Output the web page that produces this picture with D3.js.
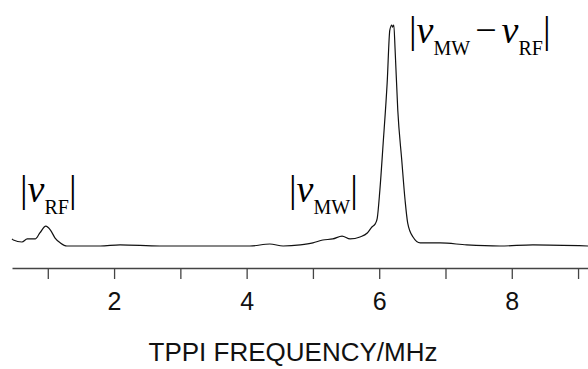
<!DOCTYPE html>
<html>
<head>
<meta charset="utf-8">
<script src="https://cdn.jsdelivr.net/npm/d3@7"></script>
<style>
  body { margin: 0; background: #fff; }
  svg { display: block; }
  .lbl { font-family: "Liberation Serif", "Times New Roman", serif; fill: #000; }
</style>
</head>
<body>
<div id="chart"></div>
<script>
// spectrum (frequency in MHz, normalised intensity)
const freq = [0.46, 0.48, 0.61, 0.69, 0.81, 0.88, 0.97, 1.04, 1.11, 1.19, 1.29, 1.79, 2.09, 2.69, 3.30,
  4.05, 4.35, 4.55, 4.81, 5.00, 5.15, 5.30, 5.44, 5.56, 5.71, 5.82, 5.89, 5.94, 5.97, 6.01, 6.06,
  6.12, 6.16, 6.19, 6.20, 6.22, 6.24, 6.28, 6.34, 6.39, 6.43, 6.51, 6.62, 6.92, 7.32, 7.82, 8.32, 9.15];
const intensity = [0.032, 0.027, 0.018, 0.032, 0.032, 0.059, 0.090, 0.072, 0.036, 0.014, 0, 0, 0.005, 0, 0,
  0, 0.009, 0, 0.005, 0.014, 0.027, 0.032, 0.045, 0.032, 0.041, 0.059, 0.086, 0.10, 0.125, 0.253, 0.466,
  0.738, 0.977, 1.0, 0.99, 1.0, 0.887, 0.615, 0.389, 0.208, 0.104, 0.041, 0.014, 0.014, 0.005, 0, 0.005, 0];
const tickValues = [1, 2, 3, 4, 5, 6, 7, 8, 9];
const xTitle = "TPPI FREQUENCY/MHz";

const W = 588, H = 369;
const svg = d3.select("#chart").append("svg").attr("width", W).attr("height", H);

const x = d3.scaleLinear().domain([0.46, 9.15]).range([12, 588]);
const y = d3.scaleLinear().domain([0, 1]).range([246, 25]);

// axis
const axis = svg.append("g")
  .attr("transform", "translate(0,268)")
  .call(d3.axisBottom(x).tickValues(tickValues)
    .tickFormat(d => d % 2 === 0 ? d : "")
    .tickSize(11).tickSizeOuter(0).tickPadding(13));
axis.select(".domain").attr("stroke", "#444").attr("stroke-width", 1.3);
axis.selectAll(".tick line").attr("stroke", "#444").attr("stroke-width", 1.3);
axis.selectAll(".tick text")
  .attr("font-family", "'Liberation Sans', Arial, sans-serif")
  .attr("font-size", 25).attr("fill", "#111");

svg.append("text")
  .attr("x", 293).attr("y", 361)
  .attr("text-anchor", "middle")
  .attr("font-family", "'Liberation Sans', Arial, sans-serif")
  .attr("font-size", 26).attr("fill", "#111")
  .text(xTitle);

// spectrum line
const line = d3.line()
  .x((d, i) => x(freq[i]))
  .y(d => y(d))
  .curve(d3.curveMonotoneX);
svg.append("path")
  .datum(intensity)
  .attr("d", line)
  .attr("fill", "none")
  .attr("stroke", "#111")
  .attr("stroke-width", 1.2);

// peak labels  |nu_sub| or |nu_sub - nu_sub|
function peakLabel(px, py, parts) {
  const t = svg.append("text").attr("class", "lbl").attr("x", px).attr("y", py).attr("font-size", 38);
  t.append("tspan").text("|");
  let down = 0;
  parts.forEach((p, i) => {
    if (i > 0) t.append("tspan").attr("dy", -down).attr("dx", 5).text("\u2212"), down = 0;
    t.append("tspan").attr("font-style", "italic").attr("dy", -down).attr("dx", i > 0 ? 5 : 0).text("\u03BD");
    t.append("tspan").attr("font-size", 20).attr("dy", 12).text(p);
    down = 12;
  });
  t.append("tspan").attr("dy", -down).attr("dx", 0).text("|");
}
peakLabel(20, 202, ["RF"]);
peakLabel(289, 202, ["MW"]);
peakLabel(409, 43, ["MW", "RF"]);
</script>
</body>
</html>
